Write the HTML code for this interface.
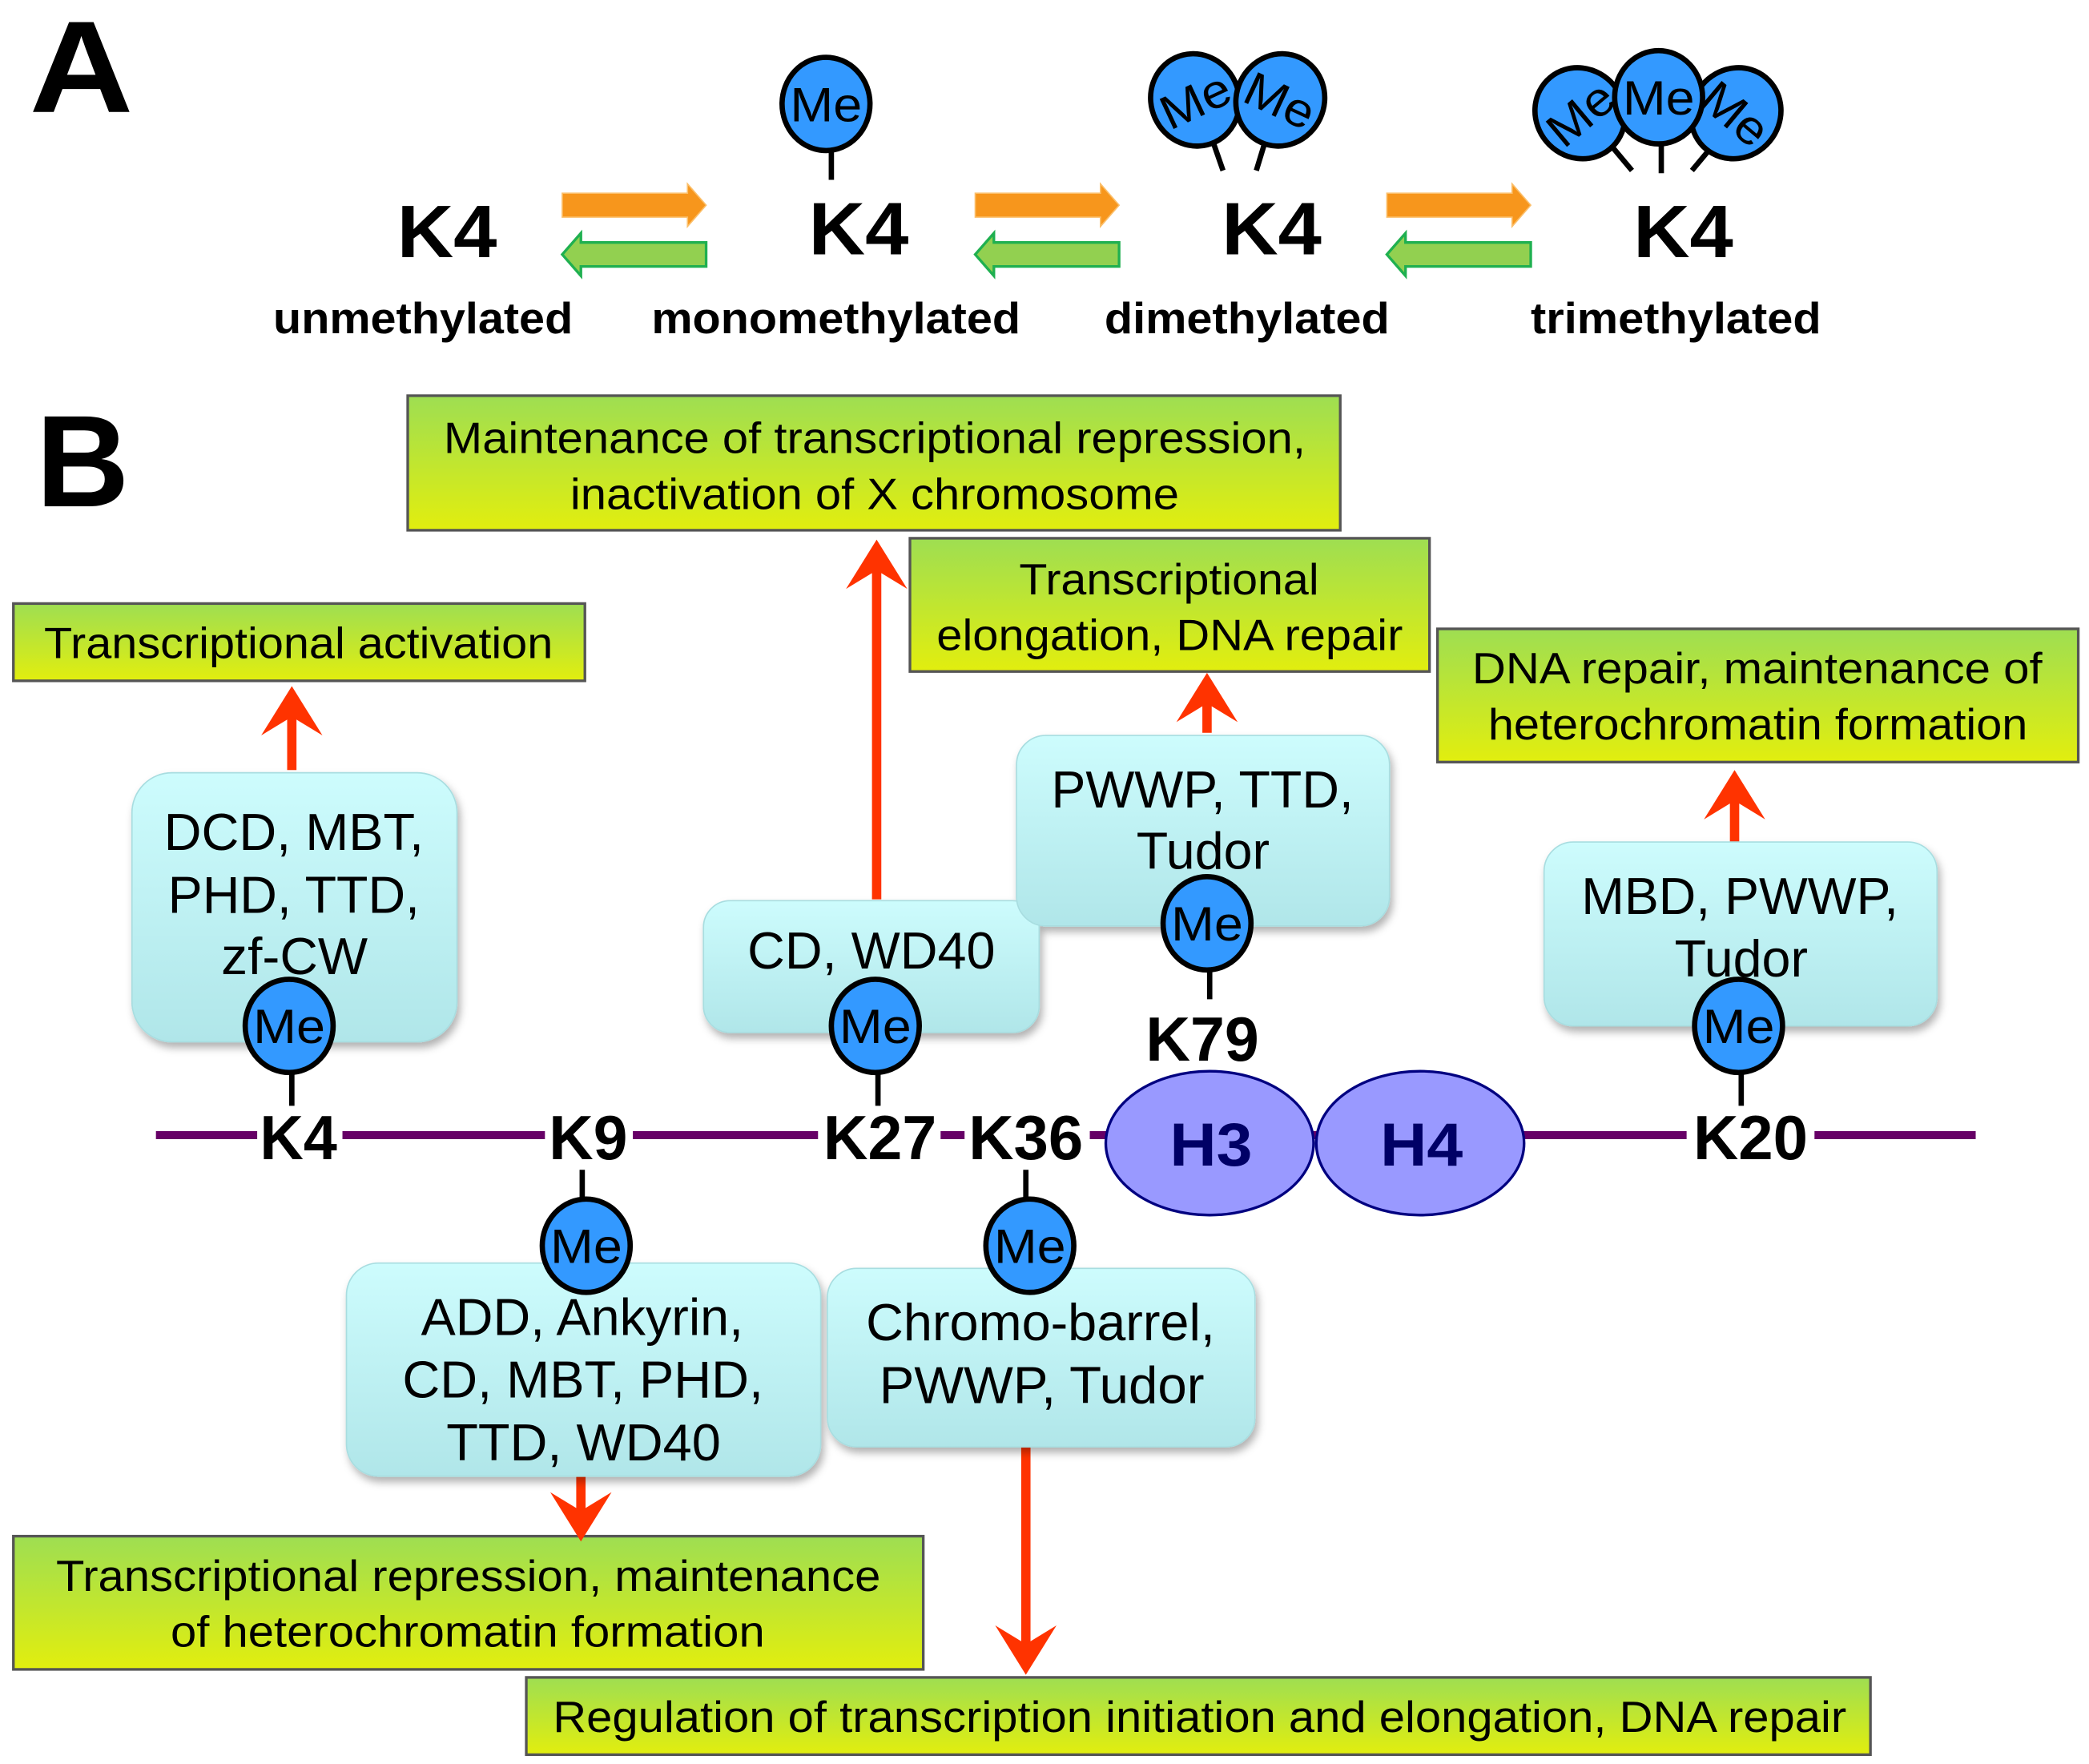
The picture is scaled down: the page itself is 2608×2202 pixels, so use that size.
<!DOCTYPE html>
<html><head><meta charset="utf-8"><style>html,body{margin:0;padding:0;background:#fff}svg{display:block}</style></head>
<body>
<svg width="2608" height="2202" viewBox="0 0 1568 1324" xmlns="http://www.w3.org/2000/svg" font-family="'Liberation Sans', Arial, sans-serif">
<defs>
<linearGradient id="gg" x1="0" y1="0" x2="0" y2="1"><stop offset="0" stop-color="#9ede52"/><stop offset="1" stop-color="#e2ee0e"/></linearGradient>
<linearGradient id="cg" x1="0" y1="0" x2="0" y2="1"><stop offset="0" stop-color="#cdfcfd"/><stop offset="1" stop-color="#b0e6e9"/></linearGradient>
<filter id="sh" x="-10%" y="-10%" width="130%" height="130%"><feDropShadow dx="2" dy="4" stdDeviation="3" flood-color="#000" flood-opacity="0.3"/></filter>
<g id="me"><ellipse cx="0" cy="0" rx="33" ry="35" fill="#3399ff" stroke="#000" stroke-width="4"/><text x="0" y="13" font-size="36" text-anchor="middle" fill="#000" textLength="54" lengthAdjust="spacingAndGlyphs">Me</text></g>
</defs>

<!-- Panel A -->
<text x="22" y="84" font-size="98" font-weight="bold" textLength="78" lengthAdjust="spacingAndGlyphs">A</text>
<g font-weight="bold" font-size="56">
<text x="298" y="193" textLength="75" lengthAdjust="spacingAndGlyphs">K4</text>
<text x="607" y="191" textLength="75" lengthAdjust="spacingAndGlyphs">K4</text>
<text x="917" y="191" textLength="75" lengthAdjust="spacingAndGlyphs">K4</text>
<text x="1226" y="193" textLength="75" lengthAdjust="spacingAndGlyphs">K4</text>
</g>
<g font-weight="bold" font-size="33">
<text x="205" y="250" textLength="225" lengthAdjust="spacingAndGlyphs">unmethylated</text>
<text x="489" y="250" textLength="277" lengthAdjust="spacingAndGlyphs">monomethylated</text>
<text x="829" y="250" textLength="214" lengthAdjust="spacingAndGlyphs">dimethylated</text>
<text x="1149" y="250" textLength="218" lengthAdjust="spacingAndGlyphs">trimethylated</text>
</g>
<g id="eq">
<polygon points="422,145 516,145 516,138 530,154 516,170 516,163 422,163" fill="#f7961c" stroke="#fbbf6a" stroke-width="1"/>
<polygon points="530,182 436,182 436,175 422,191 436,207 436,200 530,200" fill="#92d050" stroke="#1fb050" stroke-width="2"/>
</g>
<use href="#eq" x="310"/>
<use href="#eq" x="619"/>
<line x1="624" y1="110" x2="624" y2="135" stroke="#000" stroke-width="4"/>
<use href="#me" x="620" y="78"/>
<line x1="910" y1="105" x2="918" y2="128" stroke="#000" stroke-width="4"/>
<line x1="950" y1="105" x2="943" y2="128" stroke="#000" stroke-width="4"/>
<g transform="translate(897,75) rotate(-25)"><ellipse rx="33" ry="35" fill="#3399ff" stroke="#000" stroke-width="4"/><text y="13" font-size="36" text-anchor="middle" textLength="54" lengthAdjust="spacingAndGlyphs">Me</text></g>
<g transform="translate(961,75) rotate(25)"><ellipse rx="33" ry="35" fill="#3399ff" stroke="#000" stroke-width="4"/><text y="13" font-size="36" text-anchor="middle" textLength="54" lengthAdjust="spacingAndGlyphs">Me</text></g>
<line x1="1210" y1="110" x2="1225" y2="128" stroke="#000" stroke-width="4"/>
<line x1="1247" y1="105" x2="1247" y2="130" stroke="#000" stroke-width="4"/>
<line x1="1285" y1="110" x2="1270" y2="128" stroke="#000" stroke-width="4"/>
<g transform="translate(1186,85) rotate(-40)"><ellipse rx="33" ry="35" fill="#3399ff" stroke="#000" stroke-width="4"/><text y="13" font-size="36" text-anchor="middle" textLength="54" lengthAdjust="spacingAndGlyphs">Me</text></g>
<g transform="translate(1303,85) rotate(40)"><ellipse rx="33" ry="35" fill="#3399ff" stroke="#000" stroke-width="4"/><text y="13" font-size="36" text-anchor="middle" textLength="54" lengthAdjust="spacingAndGlyphs">Me</text></g>
<g transform="translate(1245,73)"><ellipse rx="33" ry="35" fill="#3399ff" stroke="#000" stroke-width="4"/><text y="13" font-size="36" text-anchor="middle" textLength="54" lengthAdjust="spacingAndGlyphs">Me</text></g>

<!-- Panel B -->
<text x="27" y="380" font-size="98" font-weight="bold" textLength="70" lengthAdjust="spacingAndGlyphs">B</text>

<g stroke="#555" stroke-width="2" fill="url(#gg)">
<rect x="306" y="297" width="700" height="101"/>
<rect x="683" y="404" width="390" height="100"/>
<rect x="10" y="453" width="429" height="58"/>
<rect x="1079" y="472" width="481" height="100"/>
<rect x="10" y="1153" width="683" height="100"/>
<rect x="395" y="1259" width="1009" height="58"/>
</g>
<g font-size="33">
<text x="333" y="340" textLength="647" lengthAdjust="spacingAndGlyphs">Maintenance of transcriptional repression,</text>
<text x="428" y="382" textLength="457" lengthAdjust="spacingAndGlyphs">inactivation of X chromosome</text>
<text x="765" y="446" textLength="225" lengthAdjust="spacingAndGlyphs">Transcriptional</text>
<text x="703" y="488" textLength="350" lengthAdjust="spacingAndGlyphs">elongation, DNA repair</text>
<text x="33" y="494" textLength="382" lengthAdjust="spacingAndGlyphs">Transcriptional activation</text>
<text x="1105" y="513" textLength="428" lengthAdjust="spacingAndGlyphs">DNA repair, maintenance of</text>
<text x="1117" y="555" textLength="405" lengthAdjust="spacingAndGlyphs">heterochromatin formation</text>
<text x="42" y="1194" textLength="619" lengthAdjust="spacingAndGlyphs">Transcriptional repression, maintenance</text>
<text x="128" y="1236" textLength="446" lengthAdjust="spacingAndGlyphs">of heterochromatin formation</text>
<text x="415" y="1300" textLength="971" lengthAdjust="spacingAndGlyphs">Regulation of transcription initiation and elongation, DNA repair</text>
</g>

<g stroke="#ff3300" stroke-width="7" fill="none">
<line x1="219" y1="578" x2="219" y2="530"/>
<line x1="658" y1="675" x2="658" y2="420"/>
<line x1="906" y1="550" x2="906" y2="520"/>
<line x1="1302" y1="632" x2="1302" y2="593"/>
<line x1="436" y1="1108" x2="436" y2="1140"/>
<line x1="770" y1="1086" x2="770" y2="1240"/>
</g>
<g fill="#ff3300">
<polygon points="219,515 242,552 219,538 196,552"/>
<polygon points="658,405 681,442 658,428 635,442"/>
<polygon points="906,505 929,542 906,528 883,542"/>
<polygon points="1302,578 1325,615 1302,601 1279,615"/>
<polygon points="436,1157 459,1120 436,1134 413,1120"/>
<polygon points="770,1257 793,1220 770,1234 747,1220"/>
</g>

<g fill="url(#cg)" stroke="#a8dde0" stroke-width="1" filter="url(#sh)">
<rect x="99" y="580" width="244" height="202" rx="30"/>
<rect x="528" y="676" width="252" height="99" rx="20"/>
<rect x="763" y="552" width="280" height="143" rx="22"/>
<rect x="1159" y="632" width="295" height="138" rx="22"/>
<rect x="260" y="948" width="356" height="160" rx="24"/>
<rect x="621" y="952" width="321" height="134" rx="22"/>
</g>
<g font-size="39">
<text x="123" y="638" textLength="195" lengthAdjust="spacingAndGlyphs">DCD, MBT,</text>
<text x="126" y="685" textLength="189" lengthAdjust="spacingAndGlyphs">PHD, TTD,</text>
<text x="166" y="731" textLength="110" lengthAdjust="spacingAndGlyphs">zf-CW</text>
<text x="561" y="727" textLength="186" lengthAdjust="spacingAndGlyphs">CD, WD40</text>
<text x="789" y="606" textLength="227" lengthAdjust="spacingAndGlyphs">PWWP, TTD,</text>
<text x="853" y="652" textLength="100" lengthAdjust="spacingAndGlyphs">Tudor</text>
<text x="1187" y="686" textLength="238" lengthAdjust="spacingAndGlyphs">MBD, PWWP,</text>
<text x="1257" y="733" textLength="100" lengthAdjust="spacingAndGlyphs">Tudor</text>
<text x="316" y="1002" textLength="242" lengthAdjust="spacingAndGlyphs">ADD, Ankyrin,</text>
<text x="302" y="1049" textLength="271" lengthAdjust="spacingAndGlyphs">CD, MBT, PHD,</text>
<text x="335" y="1096" textLength="206" lengthAdjust="spacingAndGlyphs">TTD, WD40</text>
<text x="650" y="1006" textLength="262" lengthAdjust="spacingAndGlyphs">Chromo-barrel,</text>
<text x="660" y="1053" textLength="244" lengthAdjust="spacingAndGlyphs">PWWP, Tudor</text>
</g>

<line x1="117" y1="852" x2="1483" y2="852" stroke="#660066" stroke-width="6"/>
<g fill="#fff">
<rect x="193" y="830" width="64" height="44"/>
<rect x="409" y="830" width="66" height="44"/>
<rect x="614" y="830" width="92" height="44"/>
<rect x="724" y="830" width="94" height="44"/>
<rect x="1266" y="830" width="96" height="44"/>
</g>
<ellipse cx="908" cy="858" rx="78" ry="54" fill="#9999ff" stroke="#000080" stroke-width="2"/>
<ellipse cx="1066" cy="858" rx="78" ry="54" fill="#9999ff" stroke="#000080" stroke-width="2"/>
<g font-size="46" font-weight="bold" fill="#000066">
<text x="878" y="875" textLength="62" lengthAdjust="spacingAndGlyphs">H3</text>
<text x="1036" y="875" textLength="62" lengthAdjust="spacingAndGlyphs">H4</text>
</g>
<g font-size="47" font-weight="bold">
<text x="195" y="870" textLength="58" lengthAdjust="spacingAndGlyphs">K4</text>
<text x="412" y="870" textLength="59" lengthAdjust="spacingAndGlyphs">K9</text>
<text x="618" y="870" textLength="85" lengthAdjust="spacingAndGlyphs">K27</text>
<text x="727" y="870" textLength="86" lengthAdjust="spacingAndGlyphs">K36</text>
<text x="860" y="796" textLength="85" lengthAdjust="spacingAndGlyphs">K79</text>
<text x="1271" y="870" textLength="86" lengthAdjust="spacingAndGlyphs">K20</text>
</g>

<g stroke="#000" stroke-width="4">
<line x1="219" y1="800" x2="219" y2="830"/>
<line x1="659" y1="800" x2="659" y2="830"/>
<line x1="908" y1="722" x2="908" y2="750"/>
<line x1="1307" y1="800" x2="1307" y2="830"/>
<line x1="437" y1="878" x2="437" y2="902"/>
<line x1="770" y1="878" x2="770" y2="902"/>
</g>
<use href="#me" x="217" y="770"/>
<use href="#me" x="657" y="770"/>
<use href="#me" x="906" y="693"/>
<use href="#me" x="1305" y="770"/>
<use href="#me" x="440" y="935"/>
<use href="#me" x="773" y="935"/>
</svg>
</body></html>
